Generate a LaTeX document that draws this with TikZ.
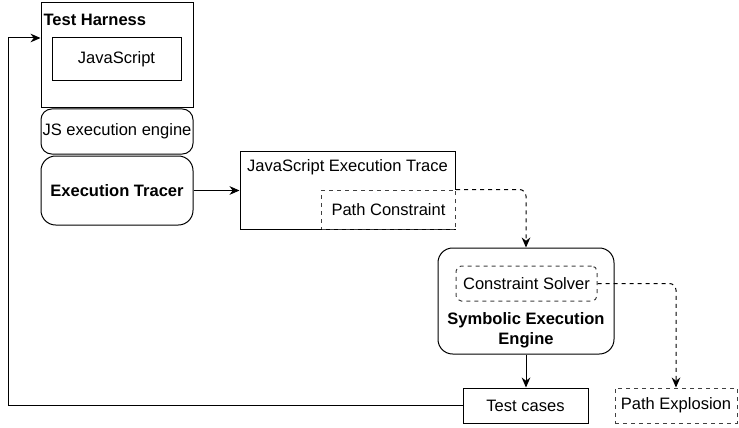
\documentclass[tikz,border=0pt]{standalone}
\usepackage{fontspec}
\setmainfont{Liberation Sans}
\usetikzlibrary{positioning,arrows.meta}

\begin{document}
\begin{tikzpicture}[x=0.75pt, y=-0.75pt, line width=0.75pt,
  font=\fontsize{12.4}{15}\selectfont,
  box/.style={draw, inner sep=0pt},
  rbox/.style={draw, rounded corners=8pt, inner sep=0pt},
  dbox/.style={draw=black!75, dashed, inner sep=0pt},
  >={Stealth[length=7.5pt,width=6.5pt]}]
\useasboundingbox (0,0) rectangle (739,428);

\def\xa{117};
\def\xb{347.5};
\def\xc{526};
\def\xd{676};

\def\ya{55.5};
\def\yb{131.5};
\def\yc{190.5};
\def\yd{301};
\def\ye{405.5};

% left column
\node[box, minimum width=114pt, minimum height=78.75pt] (h) at (\xa, \ya) {};
\node[anchor=west, inner sep=0pt] (ht) at (43, 20) {\bfseries Test Harness};
\node[box, minimum width=96.75pt, minimum height=32.25pt] (js) at (116.5, 59.5) {JavaScript};
\node[rbox, minimum width=114pt, minimum height=33.75pt] (en) at (\xa, \yb) {JS execution engine};
\node[rbox, rounded corners=11pt, minimum width=114pt, minimum height=51.75pt] (et) at (\xa, \yc) {\bfseries Execution Tracer};

% trace
\node[box, minimum width=161.25pt, minimum height=58.5pt] (jt) at (\xb, 190) {};
\node (jtl) at (\xb, 167) {JavaScript Execution Trace};
\node[dbox, fill=white, minimum width=100.5pt, minimum height=29.25pt] (pc) at (388.5, 209.5) {Path Constraint};

% solver
\node[rbox, rounded corners=11pt, minimum width=132pt, minimum height=79.5pt] (se) at (\xc, \yd) {};
\node[dbox, rounded corners=4pt, minimum width=105.75pt, minimum height=26.25pt] (cs) at (526.5, 283.5) {Constraint Solver};
\node[align=center, font=\fontsize{12.4}{15}\selectfont\bfseries] (sel) at (\xc, 330.5) {Symbolic Execution\\Engine};

% results
\node[box, minimum width=93.75pt, minimum height=26.25pt] (tc) at (525.5, \ye) {Test cases};
\node[dbox, minimum width=91.5pt, minimum height=26.25pt] (pe) at (\xd, \ye) {Path Explosion};

\coordinate (k) at (8, 38);

\draw[->] (et.east) -- (jt.west |- et.east);
\draw[->, dashed, rounded corners=5pt] (pc.north east) -| (se.north);
\draw[->, dashed, rounded corners=5pt] (cs.east) -| (pe.north);
\draw[->] (se.south) -- (se.south |- tc.north);
\draw[->] (tc.west) -| (k) -- (k -| h.west);
\end{tikzpicture}
\end{document}
